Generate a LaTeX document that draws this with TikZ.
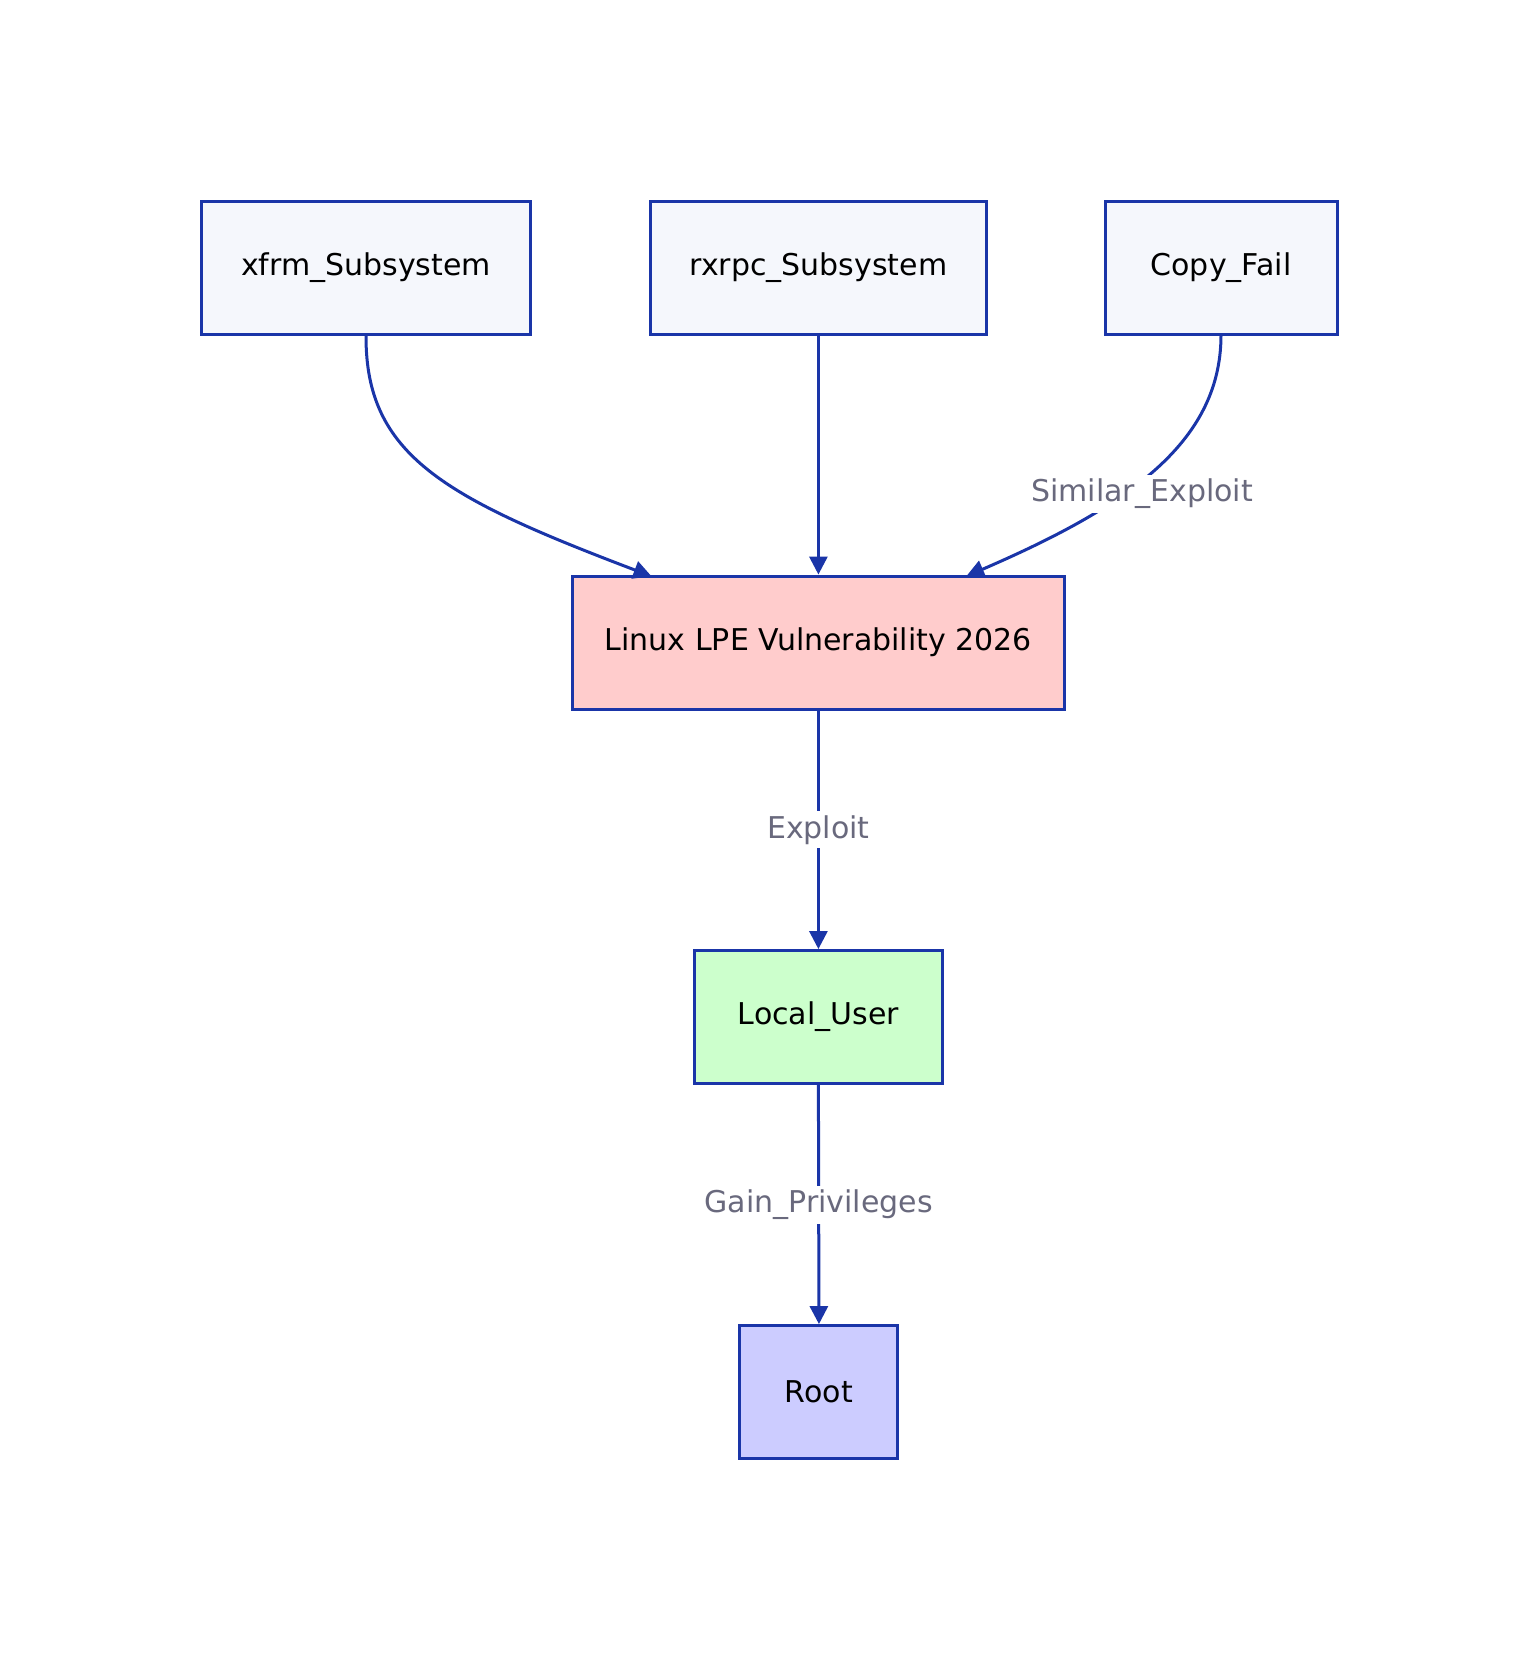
\documentclass[tikz,border=0pt]{standalone}
\usepackage{fontspec}
\setmainfont{DejaVu Sans}
\usetikzlibrary{arrows.meta}
\definecolor{edgeblue}{RGB}{26,53,168}
\definecolor{boxfill}{RGB}{245,247,252}
\definecolor{vulnfill}{RGB}{255,204,204}
\definecolor{userfill}{RGB}{204,255,204}
\definecolor{rootfill}{RGB}{204,204,255}
\definecolor{labelgray}{RGB}{105,105,125}
\begin{document}
\begin{tikzpicture}[x=0.5297pt,y=0.5297pt,yscale=-1,
  box/.style={draw=edgeblue,line width=1.5pt,fill=boxfill,minimum height=66.5pt,font=\fontsize{15}{18}\selectfont,inner sep=0pt},
  link/.style={draw=edgeblue,line width=1.5pt,-{Triangle[length=9pt,width=9pt]}},
  elabel/.style={fill=white,text=labelgray,font=\fontsize{15}{18}\selectfont,inner sep=2pt}]
\useasboundingbox (0,0) rectangle (1450,1565);

% sources
\node[box,minimum width=164.7pt] (xfrm) at (345.5,253) {xfrm\_Subsystem};
\node[box,minimum width=167.9pt] (rxrpc) at (772.5,253) {rxrpc\_Subsystem};
\node[box,minimum width=116pt] (copy) at (1152.5,253) {Copy\_Fail};

% chain
\node[box,fill=vulnfill,minimum width=245.8pt] (lpe) at (772.5,606.5) {Linux LPE Vulnerability 2026};
\node[box,fill=userfill,minimum width=124pt] (user) at (772.5,960) {Local\_User};
\node[box,fill=rootfill,minimum width=79pt] (root) at (773,1314) {Root};

\coordinate (lpeL) at (615,544);
\coordinate (lpeR) at (912,544);

\draw[link] (xfrm.south) .. controls (345,430) and (420,470) .. (lpeL);
\draw[link] (rxrpc.south) -- (lpe.north);
\draw[link] (copy.south) .. controls (1152,420) and (1060,480) .. (lpeR);
\node[elabel] (simlab) at (1078,466) {Similar\_Exploit};

\draw[link] (lpe.south) -- node[elabel] (exlab) {Exploit} (user.north);
\draw[link] (user.south) -- node[elabel] (gainlab) {Gain\_Privileges} (root.north);
\end{tikzpicture}
\end{document}
